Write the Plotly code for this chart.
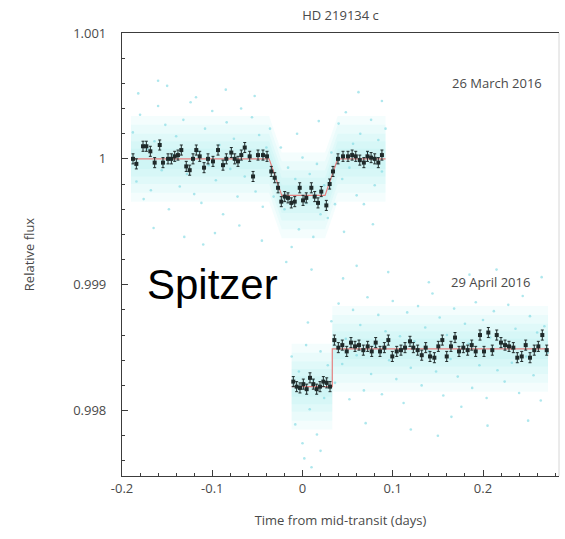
import plotly.graph_objects as go

# ---------------- data ----------------
# 26 March 2016 : binned photometry
bin1_x = [-0.1878,-0.1841,-0.1767,-0.1730,-0.1686,-0.1638,-0.1582,-0.1546,-0.1490,-0.1453,
          -0.1416,-0.1380,-0.1343,-0.1288,-0.1250,-0.1213,-0.1177,-0.1139,-0.1091,-0.1047,
          -0.0992,-0.0936,-0.0881,-0.0844,-0.0789,-0.0751,-0.0715,-0.0678,-0.0640,-0.0585,
          -0.0548,-0.0493,-0.0438,-0.0393,-0.0346,-0.0308,-0.0271,-0.0235,-0.0197,-0.0161,
          -0.0124,-0.0086,-0.0031,0.0006,0.0042,0.0098,0.0135,0.0172,0.0208,0.0264,
          0.0301,0.0338,0.0393,0.0449,0.0504,0.0550,0.0590,0.0635,0.0680,0.0720,
          0.0760,0.0800,0.0840,0.0880]
bin1_y = [1.00000,0.99996,1.00010,1.00010,1.00006,0.99997,1.00011,0.99997,1.00000,1.00000,
          1.00002,1.00003,1.00007,0.99994,0.99991,1.00000,1.00007,1.00002,0.99993,1.00000,
          0.99998,1.00007,0.99995,1.00000,1.00005,1.00000,0.99998,1.00003,1.00009,1.00002,
          0.99986,1.00003,1.00003,1.00002,0.99990,0.99985,0.99977,0.99966,0.99970,0.99969,
          0.99965,0.99966,0.99977,0.99967,0.99969,0.99977,0.99970,0.99965,0.99974,0.99963,
          0.99980,0.99990,1.00000,1.00002,1.00002,1.00003,1.00002,0.99999,0.99997,1.00002,
          1.00001,1.00000,0.99997,1.00003]

# 29 April 2016 : binned photometry
bin2_x = [-0.0102,-0.0065,-0.0028,0.0009,0.0046,0.0083,0.0120,0.0157,0.0194,0.0231,0.0268,0.0305,
          0.0353,0.0397,0.0441,0.0490,0.0537,0.0582,0.0626,0.0674,0.0722,0.0767,
          0.0811,0.0859,0.0907,0.0951,0.0995,0.1044,0.1091,0.1136,0.1191,0.1228,
          0.1276,0.1321,0.1365,0.1413,0.1461,0.1505,0.1549,0.1598,0.1645,0.1690,
          0.1734,0.1782,0.1830,0.1875,0.1919,0.1967,0.2011,0.2059,0.2103,0.2152,
          0.2199,0.2244,0.2288,0.2336,0.2380,0.2429,0.2473,0.2521,0.2568,0.2613,
          0.2657,0.2706]
bin2_y = [0.99823,0.99819,0.99818,0.99821,0.99817,0.99826,0.99821,0.99817,0.99819,0.99823,0.99822,0.99819,
          0.99856,0.99850,0.99852,0.99847,0.99854,0.99851,0.99852,0.99848,0.99851,0.99847,
          0.99854,0.99847,0.99850,0.99856,0.99843,0.99847,0.99848,0.99850,0.99855,0.99850,
          0.99848,0.99844,0.99850,0.99843,0.99842,0.99851,0.99856,0.99843,0.99851,0.99858,
          0.99847,0.99850,0.99848,0.99852,0.99847,0.99860,0.99847,0.99862,0.99848,0.99860,
          0.99854,0.99852,0.99851,0.99850,0.99842,0.99843,0.99852,0.99842,0.99848,0.99851,
          0.99860,0.99848]
bin_err = 0.00004

# transit models
model1_x = [-0.190, -0.037, -0.023, 0.025, 0.039, 0.092]
model1_y = [1.00000, 1.00000, 0.99971, 0.99971, 1.00000, 1.00000]
model2_x = [-0.012, 0.033, 0.033, 0.272]
model2_y = [0.99819, 0.99819, 0.99849, 0.99849]

# unbinned photometry (sample of individual points)
raw1_x = [-0.188,-0.184,-0.180,-0.176,-0.172,-0.168,-0.164,-0.160,-0.156,-0.152,
          -0.148,-0.144,-0.140,-0.136,-0.132,-0.128,-0.124,-0.120,-0.116,-0.112,
          -0.108,-0.104,-0.100,-0.096,-0.092,-0.088,-0.084,-0.080,-0.076,-0.072,
          -0.068,-0.064,-0.060,-0.056,-0.052,-0.048,-0.044,-0.040,
          -0.036,-0.032,-0.028,-0.024,
          -0.020,-0.016,-0.012,-0.008,-0.004,0.000,0.004,0.008,0.012,0.016,0.020,0.024,
          0.028,0.032,0.036,
          0.040,0.044,0.048,0.052,0.056,0.060,0.064,0.068,0.072,0.076,0.080,0.084,0.088,0.092,
          -0.182,-0.165,-0.150,-0.131,-0.118,-0.097,-0.085,-0.070,-0.053,-0.045,
          -0.018,-0.006,0.010,0.018,0.046,0.062,0.078,0.088,-0.160,-0.110]
raw1_y = [1.00021,0.99982,1.00035,0.99968,1.00008,0.99975,1.00014,1.00042,0.99991,1.00027,
          0.99960,1.00003,1.00018,0.99978,1.00031,0.99988,1.00045,0.99972,1.00006,0.99965,
          1.00024,0.99995,1.00038,0.99983,1.00011,0.99956,1.00029,0.99992,1.00016,0.99970,
          1.00040,0.99986,1.00002,1.00033,0.99974,1.00019,0.99962,1.00009,
          1.00024,0.99970,0.99978,1.00009,
          0.99960,0.99993,0.99930,0.99984,0.99944,1.00001,0.99965,0.99988,0.99938,0.99996,0.99956,0.99979,
          0.99953,1.00005,0.99964,
          1.00028,0.99984,1.00037,0.99993,1.00012,0.99971,1.00020,0.99964,1.00005,1.00031,0.99979,1.00015,0.99990,1.00024,
          1.00052,0.99945,1.00058,0.99938,1.00049,0.99941,1.00055,0.99947,1.00050,0.99935,
          0.99918,1.00020,0.99912,1.00030,0.99942,1.00053,0.99948,1.00046,1.00062,0.99932]

raw2_x = [-0.012,-0.008,-0.004,0.000,0.004,0.008,0.012,0.016,0.020,0.024,0.028,
          0.032,0.036,0.040,0.044,0.048,0.052,0.056,0.060,0.064,0.068,
          0.072,0.076,0.080,0.084,0.088,0.092,0.096,0.100,0.104,0.108,
          0.112,0.116,0.120,0.124,0.128,0.132,0.136,0.140,0.144,0.148,
          0.152,0.156,0.160,0.164,0.168,0.172,0.176,0.180,0.184,0.188,
          0.192,0.196,0.200,0.204,0.208,0.212,0.216,0.220,0.224,0.228,
          0.232,0.236,0.240,0.244,0.248,0.252,0.256,0.260,0.264,0.268,
          0.272,
          0.002,0.010,0.006,0.020,0.045,0.070,0.095,0.120,0.140,0.165,
          0.185,0.205,0.230,0.250,0.265,0.150,0.060,0.215]
raw2_y = [0.99843,0.99789,0.99831,0.99774,0.99852,0.99801,0.99824,0.99781,0.99847,0.99810,0.99836,
          0.99871,0.99822,0.99885,0.99837,0.99857,0.99809,0.99880,0.99844,0.99868,0.99816,
          0.99890,0.99829,0.99852,0.99876,0.99813,0.99863,0.99840,0.99887,0.99825,0.99859,
          0.99806,0.99878,0.99834,0.99855,0.99883,0.99820,0.99866,0.99847,0.99893,0.99831,
          0.99874,0.99812,0.99860,0.99841,0.99881,0.99827,0.99803,0.99869,0.99853,0.99818,
          0.99886,0.99836,0.99872,0.99810,0.99858,0.99879,0.99832,0.99850,0.99823,0.99884,
          0.99838,0.99865,0.99814,0.99891,0.99843,0.99875,0.99828,0.99862,0.99808,0.99867,
          0.99846,
          0.99762,0.99755,0.99870,0.99768,0.99905,0.99790,0.99910,0.99785,0.99902,0.99795,
          0.99908,0.99788,0.99900,0.99792,0.99906,0.99780,0.99915,0.99912]

# spread of the unbinned cloud around each model (half widths)
haze_halfwidths = [0.00034, 0.00027, 0.00020, 0.00014, 0.00008]

x_tickvals = [-0.2, -0.1, 0.0, 0.1, 0.2]
x_ticktext = ["-0.2", "-0.1", "0", "0.1", "0.2"]
y_tickvals = [0.998, 0.999, 1.000, 1.001]
y_ticktext = ["0.998", "0.999", "1", "1.001"]

# ---------------- figure ----------------
fig = go.Figure()

HAZE = "rgba(130,228,235,0.085)"
for mx, my in [(model1_x, model1_y), (model2_x, model2_y)]:
    for w in haze_halfwidths:
        px = list(mx) + list(reversed(mx))
        py = [v + w for v in my] + [v - w for v in reversed(my)]
        fig.add_trace(go.Scatter(x=px, y=py, fill="toself", fillcolor=HAZE,
                                 line=dict(width=0), mode="lines",
                                 hoverinfo="skip", showlegend=False))

for rx, ry in [(raw1_x, raw1_y), (raw2_x, raw2_y)]:
    fig.add_trace(go.Scatter(x=rx, y=ry, mode="markers",
                             marker=dict(size=2.6, color="rgba(120,215,225,0.6)"),
                             showlegend=False, hoverinfo="skip"))

for mx, my in [(model1_x, model1_y), (model2_x, model2_y)]:
    fig.add_trace(go.Scatter(x=mx, y=my, mode="lines",
                             line=dict(color="#e58080", width=1.2),
                             showlegend=False))

for bx, by in [(bin1_x, bin1_y), (bin2_x, bin2_y)]:
    fig.add_trace(go.Scatter(x=bx, y=by, mode="markers",
                             marker=dict(size=4, color="#1f2a2a", symbol="square"),
                             error_y=dict(type="constant", value=bin_err,
                                          color="#1f2a2a", thickness=1, width=1.5),
                             showlegend=False))

FONT = "Open Sans, Noto Sans, sans-serif"
TXT = "#4a4a4a"
AX = "#3c3c3c"

fig.update_layout(
    width=565, height=539,
    margin=dict(l=122, r=6, t=33, b=63),
    plot_bgcolor="white", paper_bgcolor="white",
    font=dict(family=FONT, size=13, color=TXT),
    title=dict(text="HD 219134 c", x=0.5, xref="paper", y=0.972, yanchor="middle",
               xanchor="center", font=dict(size=13, color=TXT)),
    xaxis=dict(range=[-0.2, 0.2842], tickvals=x_tickvals, ticktext=x_ticktext,
               ticks="inside", ticklen=6, tickcolor=AX, tickwidth=1,
               showline=True, linecolor=AX, linewidth=1.2, mirror=True,
               showgrid=False, zeroline=False,
               minor=dict(dtick=0.02, tick0=-0.2, ticks="inside", ticklen=3,
                          tickcolor=AX, showgrid=False),
               tickfont=dict(size=13, color=TXT),
               title=dict(text="Time from mid-transit (days)", standoff=20,
                          font=dict(size=13, color=TXT))),
    yaxis=dict(range=[0.99748, 1.001], tickvals=y_tickvals, ticktext=y_ticktext,
               ticks="inside", ticklen=6, tickcolor=AX, tickwidth=1,
               showline=True, linecolor=AX, linewidth=1.2, mirror=False,
               showgrid=False, zeroline=False, ticklabelstandoff=12,
               minor=dict(dtick=0.0002, tick0=0.998, ticks="inside", ticklen=3,
                          tickcolor=AX, showgrid=False),
               tickfont=dict(size=13, color=TXT),
               title=dict(text="Relative flux", standoff=35,
                          font=dict(size=13, color=TXT))),
    shapes=[dict(type="line", xref="paper", yref="paper", x0=1, x1=1, y0=0, y1=1,
                 line=dict(color="#d6d6d6", width=1))],
    annotations=[
        dict(text="26 March 2016", x=0.2155, y=1.0006, xref="x", yref="y",
             showarrow=False, font=dict(size=13, color=TXT)),
        dict(text="29 April 2016", x=0.2078, y=0.99902, xref="x", yref="y",
             showarrow=False, font=dict(size=13, color=TXT)),
        dict(text="Spitzer", x=-0.0992, y=0.99900, xref="x", yref="y",
             showarrow=False, font=dict(size=42, color="#000000",
                                        family="Liberation Sans, Arial, sans-serif")),
    ],
)

fig.write_html("out.html")
